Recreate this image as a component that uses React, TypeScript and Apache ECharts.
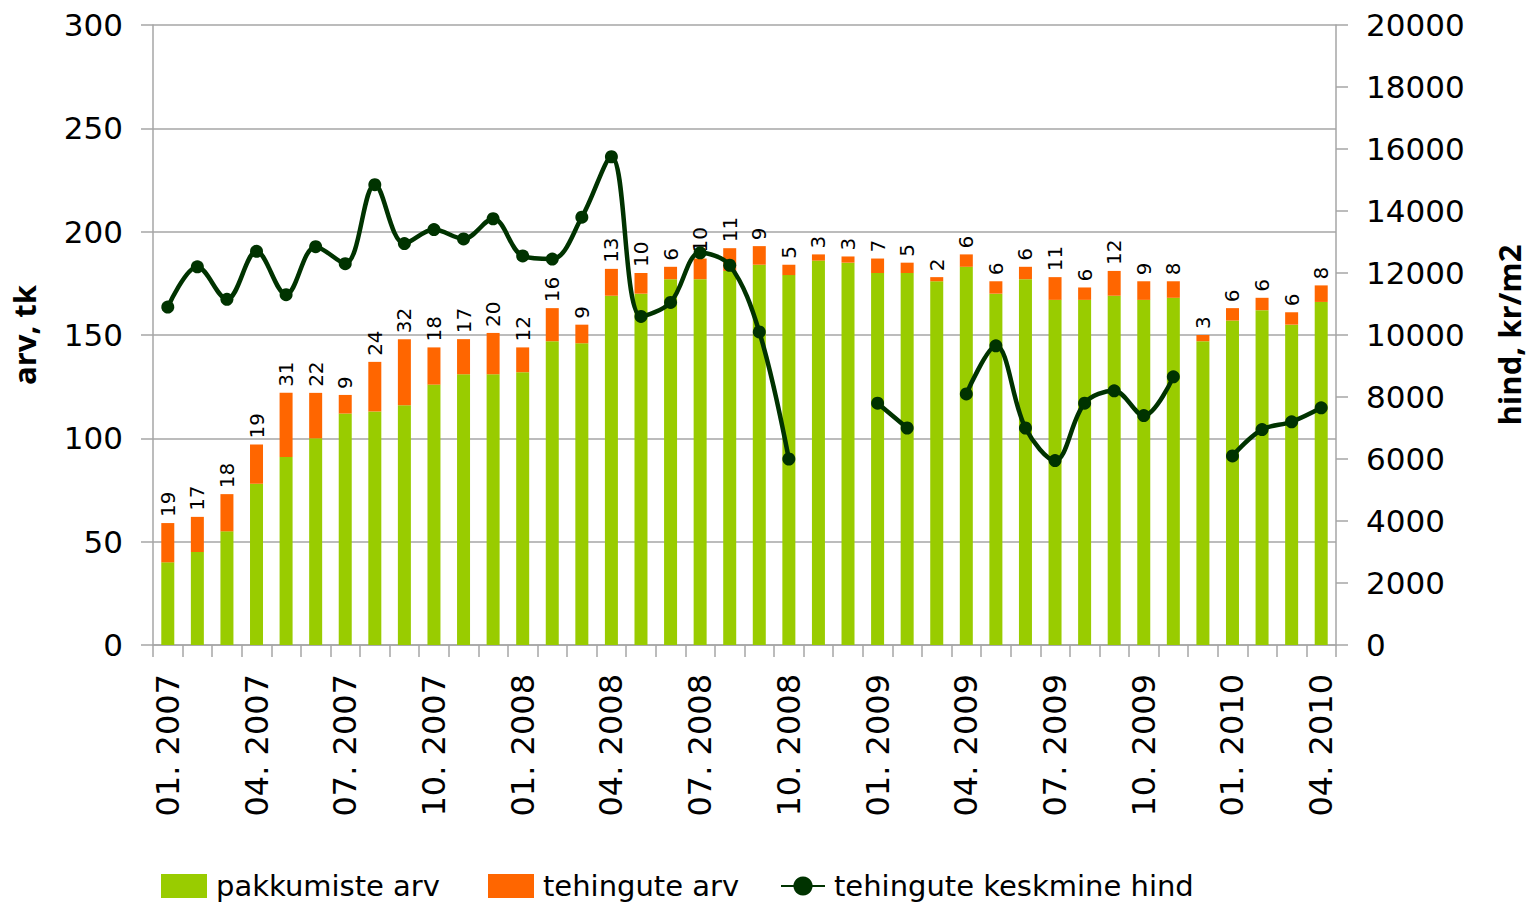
import React, { useEffect, useRef } from "react";
import * as echarts from "echarts";

const months: string[] = [
  "01. 2007", "02. 2007", "03. 2007", "04. 2007", "05. 2007", "06. 2007", "07. 2007", "08. 2007", "09. 2007", "10. 2007", "11. 2007", "12. 2007",
  "01. 2008", "02. 2008", "03. 2008", "04. 2008", "05. 2008", "06. 2008", "07. 2008", "08. 2008", "09. 2008", "10. 2008", "11. 2008", "12. 2008",
  "01. 2009", "02. 2009", "03. 2009", "04. 2009", "05. 2009", "06. 2009", "07. 2009", "08. 2009", "09. 2009", "10. 2009", "11. 2009", "12. 2009",
  "01. 2010", "02. 2010", "03. 2010", "04. 2010",
];

const offers: number[] = [
  40, 45, 55, 78, 91, 100, 112, 113, 116, 126, 131, 131,
  132, 147, 146, 169, 170, 177, 177, 181, 184, 179, 186, 185,
  180, 180, 176, 183, 170, 177, 167, 167, 169, 167, 168, 147,
  157, 162, 155, 166,
];

const deals: number[] = [
  19, 17, 18, 19, 31, 22, 9, 24, 32, 18, 17, 20,
  12, 16, 9, 13, 10, 6, 10, 11, 9, 5, 3, 3,
  7, 5, 2, 6, 6, 6, 11, 6, 12, 9, 8, 3,
  6, 6, 6, 8,
];

const avgPrice: (number | null)[] = [
  10900, 12200, 11150, 12700, 11300, 12850, 12300, 14850, 12950, 13400, 13100, 13750,
  12550, 12450, 13800, 15750, 10600, 11050, 12650, 12250, 10100, 6000, null, null,
  7800, 7000, null, 8100, 9650, 7000, 5950, 7800, 8200, 7400, 8650, null,
  6100, 6950, 7200, 7650,
];

const seriesNames = ["pakkumiste arv", "tehingute arv", "tehingute keskmine hind"];
const leftAxisName = "arv, tk";
const rightAxisName = "hind, kr/m2";

const FONT = "DejaVu Sans";
const GRID_COLOR = "#A6A6A6";
const GREEN = "#99CC00";
const ORANGE = "#FF6600";
const DARK = "#003300";

export default function App() {
  const ref = useRef<HTMLDivElement>(null);

  useEffect(() => {
    document.body.style.margin = "0";
    if (!ref.current) return;
    const chart = echarts.init(ref.current, null, { renderer: "svg" });
    const legendText = { fontFamily: FONT, fontSize: 29, lineHeight: 32, color: "#000", padding: [0, 0, 0, 4] };
    const legendPositions = [161, 488, 780];
    chart.setOption({
      animation: false,
      backgroundColor: "#ffffff",
      textStyle: { fontFamily: FONT },
      grid: { left: 153, right: 192, top: 25, bottom: 261, containLabel: false },
      legend: seriesNames.map((n, i) => ({
        left: legendPositions[i],
        top: 870,
        padding: 0,
        itemWidth: i === 2 ? 44 : 46,
        itemHeight: 24,
        textStyle: legendText,
        data: [i === 2 ? { name: n } : { name: n, icon: "rect" }],
      })),
      xAxis: {
        type: "category",
        data: months,
        boundaryGap: true,
        axisLine: { show: true, lineStyle: { color: GRID_COLOR, width: 1.5 } },
        axisTick: { show: true, interval: 0, length: 12, lineStyle: { color: GRID_COLOR, width: 1.5 } },
        axisLabel: {
          interval: 2,
          rotate: 90,
          margin: 29,
          fontFamily: FONT,
          fontSize: 32,
          color: "#000",
        },
        splitLine: { show: false },
      },
      yAxis: [
        {
          type: "value",
          min: 0,
          max: 300,
          interval: 50,
          name: leftAxisName,
          nameLocation: "middle",
          nameRotate: 90,
          nameGap: 114,
          nameTextStyle: { fontFamily: "Open Sans", fontWeight: "bold", fontSize: 31, color: "#000" },
          axisLine: { show: true, lineStyle: { color: GRID_COLOR, width: 1.5 } },
          axisTick: { show: true, length: 12, lineStyle: { color: GRID_COLOR, width: 1.5 } },
          axisLabel: { margin: 30, fontFamily: FONT, fontSize: 31, color: "#000" },
          splitLine: { show: true, lineStyle: { color: GRID_COLOR, width: 1.5 } },
        },
        {
          type: "value",
          min: 0,
          max: 20000,
          interval: 2000,
          position: "right",
          name: rightAxisName,
          nameLocation: "middle",
          nameRotate: 90,
          nameGap: 157,
          nameTextStyle: { fontFamily: "Open Sans", fontWeight: "bold", fontSize: 31, color: "#000" },
          axisLine: { show: true, lineStyle: { color: GRID_COLOR, width: 1.5 } },
          axisTick: { show: true, length: 12, lineStyle: { color: GRID_COLOR, width: 1.5 } },
          axisLabel: {
            margin: 30,
            fontFamily: FONT,
            fontSize: 31,
            color: "#000",
            formatter: (v: number) => String(v),
          },
          splitLine: { show: false },
        },
      ],
      series: [
        {
          name: seriesNames[0],
          type: "bar",
          stack: "total",
          barWidth: 13,
          itemStyle: { color: GREEN },
          data: offers,
        },
        {
          name: seriesNames[1],
          type: "bar",
          stack: "total",
          barWidth: 13,
          itemStyle: { color: ORANGE },
          label: {
            show: true,
            position: "top",
            rotate: 90,
            align: "left",
            verticalAlign: "middle",
            distance: 6,
            fontFamily: FONT,
            fontSize: 20,
            color: "#000",
          },
          data: deals,
        },
        {
          name: seriesNames[2],
          type: "line",
          yAxisIndex: 1,
          smooth: 0.35,
          connectNulls: false,
          symbol: "circle",
          symbolSize: 13,
          itemStyle: { color: DARK },
          lineStyle: { color: DARK, width: 4.5 },
          z: 5,
          data: avgPrice,
        },
      ],
    });
    return () => chart.dispose();
  }, []);

  return <div ref={ref} style={{ width: 1532, height: 906, position: "absolute", left: 0, top: 0 }} />;
}
